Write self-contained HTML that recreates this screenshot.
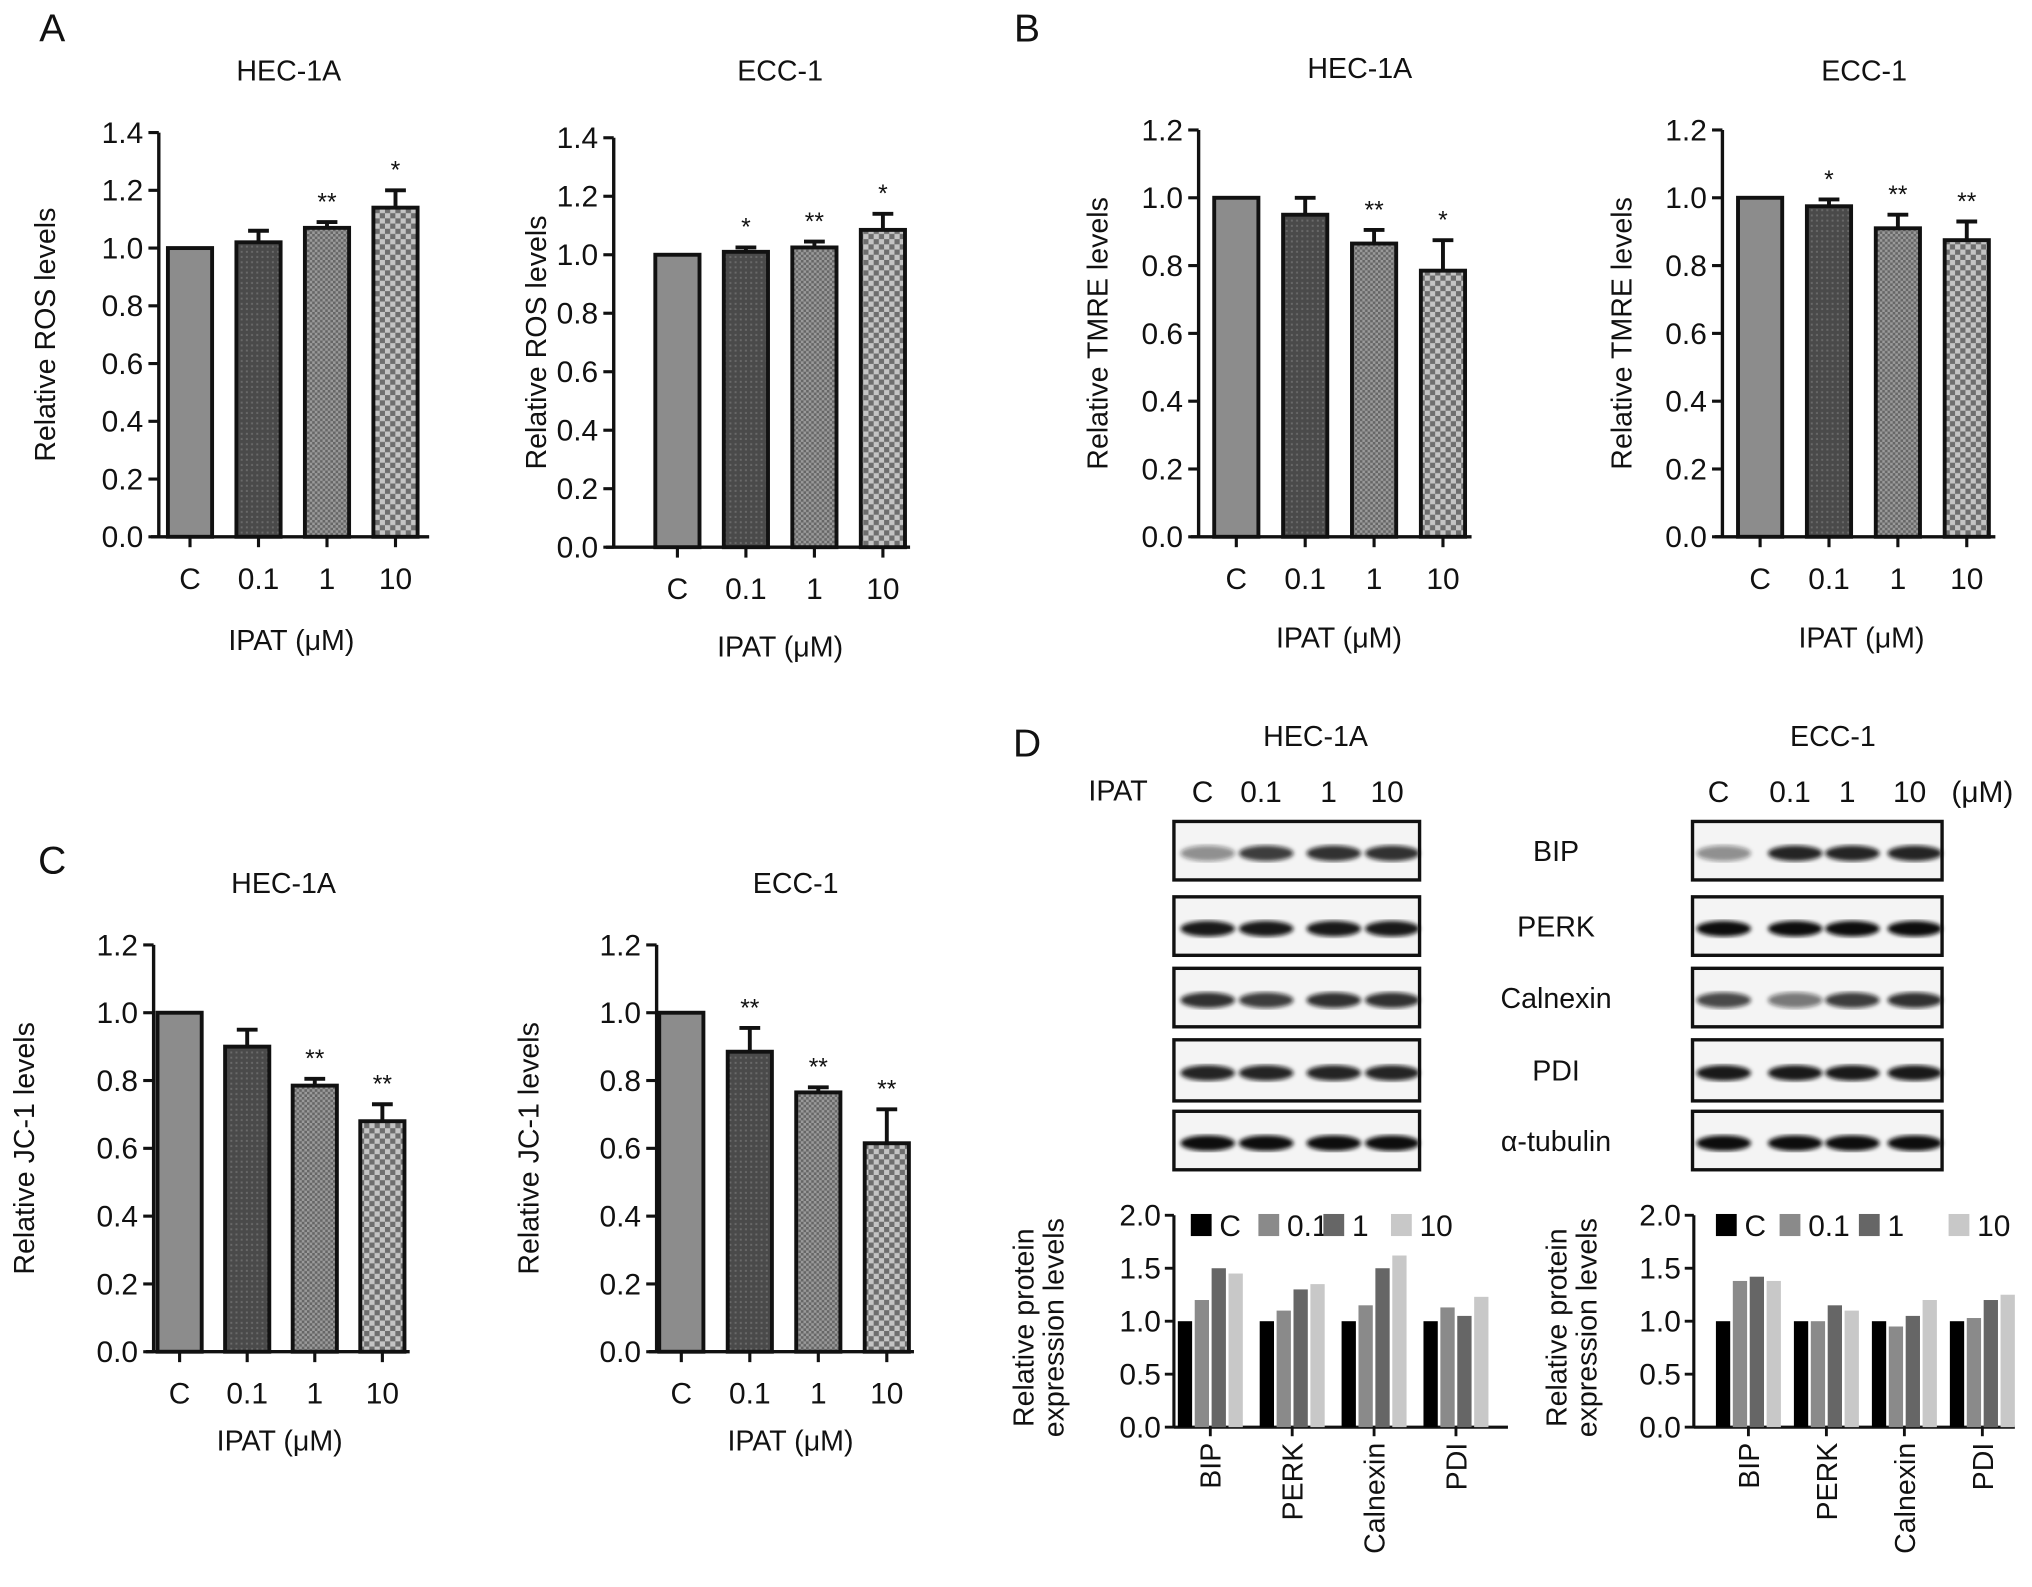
<!DOCTYPE html>
<html><head><meta charset="utf-8">
<style>
html,body{margin:0;padding:0;background:#fff;}
svg{display:block;}
text{font-family:"Liberation Sans",sans-serif;fill:#111;}
</style></head>
<body>
<svg id="fig" width="2032" height="1587" viewBox="0 0 1563 1221" xmlns="http://www.w3.org/2000/svg">
<defs>
<pattern id="pDots" width="4" height="4" patternUnits="userSpaceOnUse"><rect width="4" height="4" fill="#4a4a4a"/><rect x="1" y="1" width="1.5" height="1.5" fill="#6a6a6a"/></pattern>
<pattern id="pFine" width="4" height="4" patternUnits="userSpaceOnUse"><rect width="4" height="4" fill="#9a9a9a"/><rect width="2" height="2" fill="#666"/><rect x="2" y="2" width="2" height="2" fill="#666"/></pattern>
<pattern id="pCoarse" width="8" height="8" patternUnits="userSpaceOnUse"><rect width="8" height="8" fill="#c4c4c4"/><rect width="4" height="4" fill="#6e6e6e"/><rect x="4" y="4" width="4" height="4" fill="#6e6e6e"/></pattern>
<filter id="blur2"><feGaussianBlur stdDeviation="1.6"/></filter>
</defs>
<g id="root"></g>
</svg>
<script>
// ---------- data ----------
const doseCats = ["C","0.1","1","10"];
const rosHec = [1.0, 1.02, 1.07, 1.14];
const rosHecErr = [0, 0.04, 0.02, 0.06];
const rosHecSig = ["", "", "**", "*"];
const rosEcc = [1.0, 1.01, 1.025, 1.085];
const rosEccErr = [0, 0.015, 0.02, 0.055];
const rosEccSig = ["", "*", "**", "*"];
const tmreHec = [1.0, 0.95, 0.865, 0.785];
const tmreHecErr = [0, 0.05, 0.04, 0.09];
const tmreHecSig = ["", "", "**", "*"];
const tmreEcc = [1.0, 0.975, 0.91, 0.875];
const tmreEccErr = [0, 0.02, 0.04, 0.055];
const tmreEccSig = ["", "*", "**", "**"];
const jcHec = [1.0, 0.9, 0.785, 0.68];
const jcHecErr = [0, 0.05, 0.02, 0.05];
const jcHecSig = ["", "", "**", "**"];
const jcEcc = [1.0, 0.885, 0.765, 0.615];
const jcEccErr = [0, 0.07, 0.015, 0.1];
const jcEccSig = ["", "**", "**", "**"];
const ticks14 = ["0.0","0.2","0.4","0.6","0.8","1.0","1.2","1.4"];
const ticks12 = ["0.0","0.2","0.4","0.6","0.8","1.0","1.2"];
const proteins = ["BIP","PERK","Calnexin","PDI"];
const protHecC = [1,1,1,1];
const protHec01 = [1.2,1.1,1.15,1.13];
const protHec1 = [1.5,1.3,1.5,1.05];
const protHec10 = [1.45,1.35,1.62,1.23];
const protEccC = [1,1,1,1];
const protEcc01 = [1.38,1.0,0.95,1.03];
const protEcc1 = [1.42,1.15,1.05,1.2];
const protEcc10 = [1.38,1.1,1.2,1.25];
const protTicks = ["0.0","0.5","1.0","1.5","2.0"];

// ---------- helpers ----------
const NS="http://www.w3.org/2000/svg";
const root=document.getElementById('root');
function el(tag,attrs,parent){const e=document.createElementNS(NS,tag);for(const k in attrs)e.setAttribute(k,attrs[k]);(parent||root).appendChild(e);return e;}
function txt(s,x,y,size,anchor,parent,extra){const t=el('text',Object.assign({x:x,y:y,'font-size':size,'text-anchor':anchor||'middle'},extra||{}),parent);t.textContent=s;return t;}

const fills=["#8c8c8c","url(#pDots)","url(#pFine)","url(#pCoarse)"];

function barPanel(o){
  const g=el('g',{});
  
  
  const ymax=parseFloat(o.ticks[o.ticks.length-1]);
  const yS=v=>o.y0-(v/ymax)*(o.y0-o.yTop);
  const t=txt(o.title,o.titleX,o.titleY,22,'middle',g);
  
  
  const ax=el('line',{x1:o.ax,y1:o.yTop,x2:o.ax,y2:o.y0+1,stroke:'#111','stroke-width':2.6},g);
  
  
  o.ticks.forEach(tk=>{
    const v=parseFloat(tk),y=yS(v);
    el('line',{x1:o.ax-8,y1:y,x2:o.ax,y2:y,stroke:'#111','stroke-width':2.4},g);
    const l=txt(tk,o.ax-12,y+8,23,'end',g);
    
    
  });
  const xa=el('line',{x1:o.ax-6,y1:o.y0,x2:o.xEnd,y2:o.y0,stroke:'#111','stroke-width':2.6},g);
  
  
  const yt=txt(o.ylabel,0,0,22,'middle',g,{transform:`translate(${o.ylx},${(o.y0+o.yTop)/2}) rotate(-90)`});
  
  
  const xt=txt('IPAT (\u03bcM)',o.xtX,o.xtY,22,'middle',g);
  
  
  const bw=34;
  doseCats.forEach((c,i)=>{
    const cx=o.x0+i*o.step, v=o.vals[i], y=yS(v);
    const r=el('rect',{x:cx-bw/2,y:y,width:bw,height:o.y0-y,fill:fills[i],stroke:'#111','stroke-width':3},g);
    
    
    if(o.err[i]>0){
      const ye=yS(v+o.err[i]);
      const eb=el('path',{d:`M${cx} ${y} V${ye} M${cx-8} ${ye} H${cx+8}`,stroke:'#111','stroke-width':3,fill:'none'},g);
      
      
    }
    if(o.sig[i]){
      const s=txt(o.sig[i],cx,yS(v+o.err[i])-9,19,'middle',g);
      
      
    }
    el('line',{x1:cx,y1:o.y0,x2:cx,y2:o.y0+8,stroke:'#111','stroke-width':2.4},g);
    const xl=txt(c,cx,o.y0+40,23,'middle',g);
    
    
  });
}

barPanel({name:'ros-hec1a-chart',title:'HEC-1A',titleX:222,titleY:62,ax:122,yTop:102,y0:413,xEnd:330,x0:146,step:52.7,ticks:ticks14,vals:rosHec,err:rosHecErr,sig:rosHecSig,ylabel:'Relative ROS levels',ylx:42,xtX:224,xtY:500});
barPanel({name:'ros-ecc1-chart',title:'ECC-1',titleX:600,titleY:62,ax:472,yTop:106,y0:421,xEnd:700,x0:521,step:52.7,ticks:ticks14,vals:rosEcc,err:rosEccErr,sig:rosEccSig,ylabel:'Relative ROS levels',ylx:420,xtX:600,xtY:505});
barPanel({name:'tmre-hec1a-chart',title:'HEC-1A',titleX:1046,titleY:60,ax:922,yTop:100,y0:413,xEnd:1132,x0:951,step:53,ticks:ticks12,vals:tmreHec,err:tmreHecErr,sig:tmreHecSig,ylabel:'Relative TMRE levels',ylx:852,xtX:1030,xtY:498});
barPanel({name:'tmre-ecc1-chart',title:'ECC-1',titleX:1434,titleY:62,ax:1325,yTop:100,y0:413,xEnd:1535,x0:1354,step:53,ticks:ticks12,vals:tmreEcc,err:tmreEccErr,sig:tmreEccSig,ylabel:'Relative TMRE levels',ylx:1255,xtX:1432,xtY:498});
barPanel({name:'jc1-hec1a-chart',title:'HEC-1A',titleX:218,titleY:687,ax:118,yTop:727,y0:1040,xEnd:315,x0:138,step:52,ticks:ticks12,vals:jcHec,err:jcHecErr,sig:jcHecSig,ylabel:'Relative JC-1 levels',ylx:26,xtX:215,xtY:1116});
barPanel({name:'jc1-ecc1-chart',title:'ECC-1',titleX:612,titleY:687,ax:505,yTop:727,y0:1040,xEnd:703,x0:524,step:52.7,ticks:ticks12,vals:jcEcc,err:jcEccErr,sig:jcEccSig,ylabel:'Relative JC-1 levels',ylx:414,xtX:608,xtY:1116});

[["A",40,32],["B",790,32],["C",40,672],["D",790,582]].forEach(p=>{
  const t=txt(p[0],p[1],p[2],30,'middle');
  
  
});

// ---------- Panel D blots ----------
const dg=el('g',{});


[["HEC-1A",1012,574],["ECC-1",1410,574]].forEach(a=>{const t=txt(a[0],a[1],a[2],22,'middle',dg);});
const ip=txt('IPAT',860,616,22,'middle',dg);


const laneXHec=[925,970,1022,1067], laneXEcc=[1322,1377,1421,1469];
doseCats.forEach((c,i)=>{
  const a=txt(c,laneXHec[i],617,23,'middle',dg);
  const b=txt(c,laneXEcc[i],617,23,'middle',dg);
});
const um=txt('(\u03bcM)',1525,617,23,'middle',dg);


const blotRows=[["BIP",632,677],["PERK",690,735],["Calnexin",745,790],["PDI",800,847],["\u03b1-tubulin",855,900]];
const bandDark=[[0.45,0.8,0.85,0.85],[0.95,0.95,0.95,0.95],[0.85,0.8,0.85,0.85],[0.9,0.9,0.9,0.9],[1,1,1,1]];
const bandDarkE=[[0.45,0.9,0.9,0.9],[1,1,1,1],[0.75,0.55,0.8,0.85],[0.95,0.95,0.95,0.95],[1,1,1,1]];
blotRows.forEach((r,ri)=>{
  [[903,1092,laneXHec,bandDark],[1302,1494,laneXEcc,bandDarkE]].forEach(b=>{
    const bx=el('rect',{x:b[0],y:r[1],width:b[1]-b[0],height:r[2]-r[1],fill:'#f4f4f4',stroke:'#111','stroke-width':2.6},dg);
    
    
    const cy=(r[1]+r[2])/2+2;
    b[2].forEach((lx,li)=>{
      const d=b[3][ri][li];
      el('ellipse',{cx:lx+4,cy:cy,rx:21,ry:6,fill:'#111','fill-opacity':d,filter:'url(#blur2)'},dg);
    });
  });
  const l=txt(r[0],1197,(r[1]+r[2])/2+8,22,'middle',dg);
  
  
});

// ---------- Panel D quantification ----------
const protColors=["#000","#8a8a8a","#666","#c8c8c8"];
function protChart(o){
  const g=el('g',{});
  
  
  const yS=v=>o.y0-(v/2)*(o.y0-o.yTop);
  const ax=el('line',{x1:o.ax,y1:o.yTop,x2:o.ax,y2:o.y0+1,stroke:'#111','stroke-width':2.4},g);
  
  
  protTicks.forEach(tk=>{const y=yS(parseFloat(tk));el('line',{x1:o.ax-7,y1:y,x2:o.ax,y2:y,stroke:'#111','stroke-width':2.2},g);const l=txt(tk,o.ax-10,y+8,23,'end',g);});
  const xa=el('line',{x1:o.ax,y1:o.y0,x2:o.xEnd,y2:o.y0,stroke:'#111','stroke-width':2.4},g);
  
  
  const yt=el('text',{'font-size':22,'text-anchor':'middle',transform:`translate(${o.ylx},${(o.y0+o.yTop)/2+5}) rotate(-90)`},g);
  
  
  const t1=el('tspan',{x:0,dy:0},yt);t1.textContent='Relative protein';
  const t2=el('tspan',{x:0,dy:23},yt);t2.textContent='expression levels';
  const series=[o.c,o.s01,o.s1,o.s10];
  proteins.forEach((p,pi)=>{
    const gx=o.x0+pi*o.gstep;
    series.forEach((s,si)=>{
      const y=yS(s[pi]);
      const r=el('rect',{x:gx+si*13,y:y,width:11,height:o.y0-y,fill:protColors[si]},g);
      
      
    });
    const cx=gx+25;
    el('line',{x1:cx,y1:o.y0,x2:cx,y2:o.y0+7,stroke:'#111','stroke-width':2.2},g);
    const l=txt(p,0,0,22,'end',g,{transform:`translate(${cx+8},${o.y0+12}) rotate(-90)`});
    
    
  });
  doseCats.forEach((c,i)=>{
    const lx=o.legX[i];
    const sw=el('rect',{x:lx,y:934,width:16,height:17,fill:protColors[i]},g);
    
    
    const lt=txt(c,lx+22,951,23,'start',g);
    
    
  });
}
protChart({name:'hec1a-protein-chart',ax:903,yTop:935,y0:1098,xEnd:1160,x0:906,gstep:63,c:protHecC,s01:protHec01,s1:protHec1,s10:protHec10,ylx:795,legX:[916,968,1018,1070]});
protChart({name:'ecc1-protein-chart',ax:1303,yTop:935,y0:1098,xEnd:1550,x0:1320,gstep:60,c:protEccC,s01:protEcc01,s1:protEcc1,s10:protEcc10,ylx:1205,legX:[1320,1369,1430,1499]});
</script>
</body></html>
